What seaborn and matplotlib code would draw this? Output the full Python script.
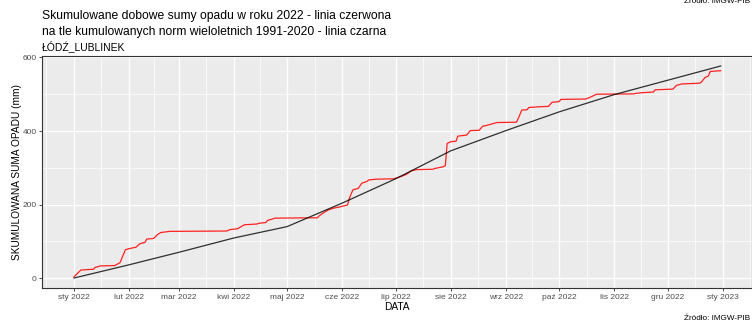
import pandas as pd
import matplotlib.pyplot as plt
import matplotlib.dates as mdates
import seaborn as sns

# opad 2022 - punkty (data, suma skumulowana w mm)
opad_daty = ["2022-01-01", "2022-01-05", "2022-01-12", "2022-01-13", "2022-01-16", "2022-01-24",
             "2022-01-27", "2022-01-30", "2022-02-01", "2022-02-05", "2022-02-07", "2022-02-10",
             "2022-02-11", "2022-02-15", "2022-02-17", "2022-02-19", "2022-02-24", "2022-03-28",
             "2022-03-30", "2022-04-03", "2022-04-07", "2022-04-14", "2022-04-15", "2022-04-19",
             "2022-04-20", "2022-04-23", "2022-04-24", "2022-05-18", "2022-05-19", "2022-05-21",
             "2022-05-24", "2022-05-27", "2022-05-31", "2022-06-04", "2022-06-05", "2022-06-07",
             "2022-06-10", "2022-06-12", "2022-06-15", "2022-06-16", "2022-06-20", "2022-06-30",
             "2022-07-02", "2022-07-05", "2022-07-07", "2022-07-10", "2022-07-13", "2022-07-22",
             "2022-07-23", "2022-07-28", "2022-07-29", "2022-07-30", "2022-08-01", "2022-08-04",
             "2022-08-05", "2022-08-10", "2022-08-12", "2022-08-17", "2022-08-19", "2022-08-21",
             "2022-08-27", "2022-09-07", "2022-09-08", "2022-09-10", "2022-09-13", "2022-09-14",
             "2022-09-20", "2022-09-25", "2022-09-27", "2022-10-01", "2022-10-02", "2022-10-16",
             "2022-10-19", "2022-10-22", "2022-11-12", "2022-11-14", "2022-11-16", "2022-11-23",
             "2022-11-24", "2022-12-04", "2022-12-06", "2022-12-09", "2022-12-19", "2022-12-20",
             "2022-12-22", "2022-12-24", "2022-12-25", "2022-12-31"]
opad_mm = [3, 22, 24, 29, 33, 34,
           42, 77, 80, 84, 93, 97,
           106, 108, 118, 124, 127, 128,
           132, 134, 145, 147, 149, 151,
           157, 161, 163, 164, 169, 176,
           185, 190, 194, 199, 217, 240,
           244, 258, 263, 267, 269, 270,
           273, 278, 282, 292, 295, 296,
           298, 303, 306, 366, 371, 372,
           386, 389, 401, 402, 413, 415,
           423, 424, 434, 457, 458, 464,
           466, 467, 478, 480, 486, 487,
           493, 500, 501, 503, 504, 506,
           512, 514, 524, 528, 530, 533,
           545, 550, 562, 564]

# norma 1991-2020 - wartosci skumulowane na poczatku kazdego miesiaca
norma_daty = ["2022-01-01", "2022-02-01", "2022-03-01", "2022-04-01", "2022-05-01", "2022-06-01",
              "2022-07-01", "2022-08-01", "2022-09-01", "2022-10-01", "2022-11-01", "2022-12-01",
              "2022-12-31"]
norma_mm = [0, 36, 70, 109, 140, 204, 270, 346, 401, 452, 499, 538, 577]

# etykiety osi X
miesiace_daty = ["2022-01-01", "2022-02-01", "2022-03-01", "2022-04-01", "2022-05-01", "2022-06-01",
                 "2022-07-01", "2022-08-01", "2022-09-01", "2022-10-01", "2022-11-01", "2022-12-01",
                 "2023-01-01"]
miesiace = ["sty 2022", "lut 2022", "mar 2022", "kwi 2022", "maj 2022", "cze 2022", "lip 2022",
            "sie 2022", "wrz 2022", "paź 2022", "lis 2022", "gru 2022", "sty 2023"]

opad = pd.DataFrame({"data": pd.to_datetime(opad_daty), "mm": opad_mm})
norma = pd.DataFrame({"data": pd.to_datetime(norma_daty), "mm": norma_mm})

sns.set_theme(style="darkgrid", rc={
    "axes.facecolor": "#EBEBEB",
    "grid.color": "white",
    "axes.edgecolor": "#333333",
    "axes.linewidth": 0.8,
})
plt.rcParams['font.family'] = ['Liberation Sans', 'DejaVu Sans']

fig = plt.figure(figsize=(7.52, 3.25), dpi=100)
ax = fig.add_axes([42 / 752, 37 / 325, 710 / 752, 232 / 325])

sns.lineplot(data=opad, x="data", y="mm", color="#FF2020", lw=0.9, ax=ax)
sns.lineplot(data=norma, x="data", y="mm", color="black", alpha=0.8, lw=0.9, ax=ax)

# osie
t0 = mdates.date2num(pd.Timestamp("2022-01-01"))
ax.set_xlim(t0 - 17.9, t0 + 381.5)
ax.set_ylim(-27, 604)

major = mdates.date2num(pd.to_datetime(miesiace_daty))
major_ext = [t0 - 31] + list(major) + [major[-1] + 31]
minor = [(a + b) / 2 for a, b in zip(major_ext[:-1], major_ext[1:])]
ax.set_xticks(major)
ax.set_xticklabels(miesiace)
ax.set_xticks(minor, minor=True)
ax.set_yticks([0, 200, 400, 600])
ax.set_yticks([100, 300, 500], minor=True)

ax.grid(which="major", color="white", lw=1.0)
ax.grid(which="minor", color="white", lw=0.5)
ax.tick_params(which="major", length=2.5, width=0.6, color="#333333",
               labelcolor="#4D4D4D", labelsize=6.0, pad=1.5, bottom=True, left=True)
ax.tick_params(which="minor", length=0)
for s in ax.spines.values():
    s.set_visible(True)
    s.set_color("#333333")
    s.set_linewidth(0.8)

ax.set_xlabel("")
ax.set_ylabel("")

# teksty
fig.text(42 / 752, 1 - 16 / 325, "Skumulowane dobowe sumy opadu w roku 2022 - linia czerwona",
         fontsize=8.75, va="center", color="black")
fig.text(42 / 752, 1 - 32 / 325, "na tle kumulowanych norm wieloletnich 1991-2020 - linia czarna",
         fontsize=8.75, va="center", color="black")
fig.text(42 / 752, 1 - 46 / 325, "ŁÓDŹ_LUBLINEK", fontsize=7.5, va="center", color="black")
fig.text(17 / 752, 1 - 172 / 325, "SKUMULOWANA SUMA OPADU (mm)", rotation=90,
         fontsize=7.3, ha="center", va="center", color="black")
fig.text(397 / 752, 1 - 307 / 325, "DATA", fontsize=7.3, ha="center", va="center", color="black")
fig.text(750 / 752, 1 - 320 / 325, "Źródło: IMGW-PIB", fontsize=5.9, ha="right", va="baseline",
         color="black")
fig.text(750 / 752, 1 - 3 / 325, "Źródło: IMGW-PIB", fontsize=5.9, ha="right", va="baseline",
         color="black")

fig.savefig("out.png", dpi=100)
